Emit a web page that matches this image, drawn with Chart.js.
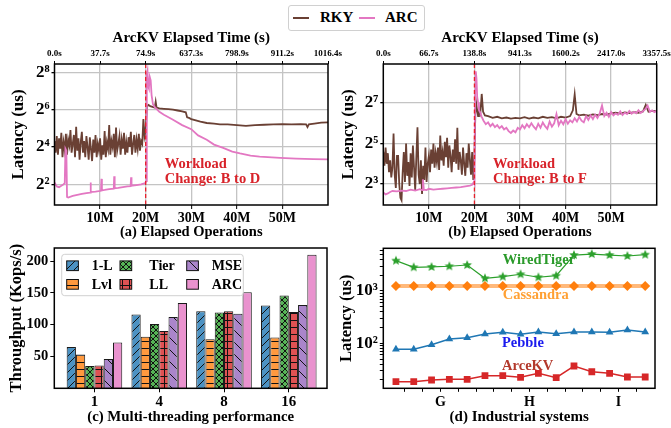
<!DOCTYPE html>
<html><head><meta charset="utf-8">
<script src="https://cdn.jsdelivr.net/npm/chart.js@4"></script>
<style>
body{margin:0;background:#fff;width:671px;height:428px;overflow:hidden;position:relative;font-family:"Liberation Serif","Times New Roman",serif;}
canvas{position:absolute;}
#legend{position:absolute;left:288px;top:5px;width:135px;height:24px;border:1px solid #d0d0d0;border-radius:3px;background:#fff;}
#legend .ln{position:absolute;height:2px;width:16px;top:11px;}
#legend .lt{position:absolute;top:3px;font-weight:bold;font-size:15px;line-height:17px;color:#000;}
</style></head><body>
<canvas id="ca" width="360" height="245" style="left:0;top:0"></canvas>
<canvas id="cb" width="341" height="245" style="left:330px;top:0"></canvas>
<canvas id="cc" width="335" height="188" style="left:0;top:240px"></canvas>
<canvas id="cd" width="341" height="188" style="left:330px;top:240px"></canvas>
<div id="legend"></div>
<script>
// ---------------- DATA ----------------
const seriesNames = ['RKY', 'ARC'];
const xTickVals = [10, 20, 30, 40, 50];
const topTickVals = [0, 10, 20, 30, 40, 50, 60];
const topLabelsA = ['0.0s', '37.7s', '74.9s', '637.3s', '798.9s', '911.2s', '1016.4s'];
const topLabelsB = ['0.0s', '66.7s', '138.8s', '941.3s', '1600.2s', '2417.0s', '3357.5s'];
const yTickValsA = [4, 16, 64, 256];
const yTickLabelsA = ['2²', '2⁴', '2⁶', '2⁸'];
const yTickValsB = [8, 32, 128];
const yTickLabelsB = ['2³', '2⁵', '2⁷'];

// (a) RKY, 0 - 19.75M every 0.25M (latency, us)
const rkyAEarly = [
  20, 13, 24, 12, 22, 15, 27, 11,
  19, 14, 26, 12, 21, 17, 30, 13,
  18, 25, 11, 34, 14, 22, 10, 19,
  28, 13, 20, 11, 24, 16, 10, 23,
  15, 9.5, 21, 13, 25, 11, 18, 14,
  22, 10, 17, 12, 29, 11, 19, 15,
  36, 12, 20, 16, 26, 11, 33, 14,
  18, 24, 12, 21, 15, 27, 12, 19,
  13, 23, 16, 28, 12, 18, 25, 13,
  21, 15, 26, 14, 20, 18, 45, 24];
const rkyALateX = [20.0, 20.3, 20.6, 21, 21.5, 22, 22.2, 22.4, 23, 24, 25, 26, 27, 28, 28.8, 29.1, 29.5, 30, 31, 32, 33.4, 35, 36.3, 38, 40, 42, 44, 46, 48, 50, 52, 54, 55.2, 55.5, 55.8, 57, 58.5, 60];
const rkyALateY = [30, 72, 76, 73, 71, 69, 86, 69, 67, 66, 65, 64, 62, 60, 58, 48, 47, 45, 43, 41, 39, 38, 37, 37, 36, 35, 36, 36.5, 37, 37.5, 37, 37.5, 37, 33.5, 37, 38, 39.5, 40];
// (a) ARC
const arcAX = [0, 0.5, 1.0, 1.5, 2.0, 2.25, 2.4, 2.6, 2.75, 3.0, 4, 5, 6, 7, 7.8, 7.9, 8.0, 9, 10.2, 10.3, 10.4, 11, 12, 13.0, 13.1, 13.2, 14, 15, 16, 16.7, 16.8, 16.9, 18, 19, 19.9, 20.1, 20.25, 20.4, 20.55, 20.7, 20.9, 21.1, 21.3, 21.6, 22, 23, 24, 26, 28, 30, 31.5, 33.4, 35, 37, 39, 40.7, 43, 45, 49.5, 53, 56.8, 60];
const arcAY = [4.3, 3.7, 3.6, 3.8, 4.0, 4.2, 15, 14, 2.5, 2.45, 2.6, 2.7, 2.8, 2.9, 2.95, 4.3, 3.0, 3.05, 3.15, 4.9, 3.2, 3.25, 3.35, 3.4, 5.4, 3.45, 3.5, 3.6, 3.7, 3.75, 5.2, 3.8, 3.9, 4.0, 4.2, 4.5, 230, 265, 150, 140, 215, 190, 110, 78, 70, 59, 53, 44, 36, 31, 24.6, 21, 17.5, 15.5, 13.5, 12.6, 11.6, 11.2, 10.7, 10.4, 10.2, 10.1];

// (b) RKY, 0 - 19.75M every 0.25M
const rkyBEarly = [
  24, 15, 28, 16, 23, 12, 18, 10,
  14, 45, 11, 7, 21, 21, 8, 5,
  4.6, 12, 24, 8.6, 32, 10.6, 17, 7.5,
  23, 10, 30, 14, 6.5, 20, 56, 11,
  8, 18, 5.7, 15, 9.2, 28, 8.6, 16,
  21, 12, 26, 16, 32, 14, 23, 17,
  28, 13, 42, 18, 24, 15, 34, 20,
  39, 14, 30, 21, 12, 26, 17, 37,
  16, 55, 13, 24, 18, 11, 28, 16,
  10.6, 23, 14, 32, 18, 11, 24, 9.2];
const rkyBLateX = [20.0, 20.2, 20.4, 20.6, 20.8, 21.0, 21.3, 21.6, 21.9, 22.3, 23, 24, 25, 26, 27, 28, 29, 30, 31, 32, 33, 34, 35, 36, 37, 38, 39, 40, 41, 41.6, 42, 42.4, 43, 44, 45, 46, 47, 48, 49, 50, 51, 52, 53, 54, 55, 56, 57, 57.6, 58.2, 59, 60];
const rkyBLateY = [20, 90, 125, 100, 82, 108, 92, 175, 95, 84, 82, 77, 80, 76, 78, 75, 77, 76, 79, 75, 78, 76, 80, 77, 79, 76, 80, 78, 82, 100, 172, 88, 84, 86, 83, 87, 85, 88, 86, 90, 92, 89, 93, 91, 94, 92, 96, 120, 95, 98, 97];
// (b) ARC
const arcBX1 = [0, 0.5, 1, 1.5, 2, 3, 4, 5, 6, 7, 8, 8.5, 8.7, 8.9, 9.5, 10, 11, 12, 13, 14, 15, 16, 17, 18, 19, 19.5, 19.8, 20.0, 20.15, 20.3, 20.45, 20.6, 20.8, 21.0, 21.3, 21.6];
const arcBY1 = [6.0, 5.6, 5.8, 6.1, 6.3, 6.2, 6.4, 6.3, 6.6, 6.4, 6.7, 6.5, 9.4, 6.6, 6.5, 6.8, 6.6, 6.7, 6.8, 6.9, 7.0, 7.1, 7.2, 7.4, 7.6, 7.8, 8.4, 7.9, 200, 380, 300, 160, 130, 100, 92, 80];
// (b) ARC, 22M - 60M every 0.5M
const arcBLate = [
  70, 62, 66, 58, 63, 56, 60, 54, 58, 52,
  55, 49, 46, 50, 47, 55, 52, 60, 54, 62,
  56, 64, 57, 52, 63, 55, 66, 58, 53, 68,
  57, 64, 88, 60, 70, 62, 74, 63, 71, 66,
  76, 68, 80, 70, 66, 82, 72, 84, 74, 86,
  77, 90, 118, 82, 92, 80, 94, 84, 90, 86,
  96, 85, 92, 88, 98, 89, 95, 90, 100, 91,
  97, 104, 118, 95, 100, 94, 98];

// (c) throughput (Kops/s)
const threadLabels = ['1', '4', '8', '16'];
const systems = ['1-L', 'Lvl', 'Tier', 'LL', 'MSE', 'ARC'];
const tp1L = [65, 116, 121, 130];
const tpLvl = [53, 81, 77, 80];
const tpTier = [35, 101, 119, 146];
const tpLL = [36, 90, 121, 120];
const tpMSE = [46, 112, 117, 131];
const tpARC = [72, 134, 151, 210];
const cYTicks = [50, 100, 150, 200];

// (d) industrial systems latency (us)
const indNames = ['WiredTiger', 'Cassandra', 'Pebble', 'ArceKV'];
const wiredTiger = [3800, 2840, 2880, 2970, 3140, 1750, 1880, 2090, 1830, 1960, 4870, 5090, 4870, 4670, 4950];
const cassandra = [1250, 1250, 1250, 1250, 1250, 1250, 1250, 1250, 1250, 1250, 1250, 1250, 1250, 1250, 1250];
const pebble = [77, 77, 94, 121, 128, 151, 162, 149, 164, 153, 164, 164, 162, 179, 164];
const arceKV = [18.5, 18.5, 19.9, 20.5, 20.5, 24, 24, 22.4, 26.7, 22, 36.8, 28.6, 26.7, 22.7, 22.7];
const dGroupLabels = ['G', 'H', 'I'];
const dGroupTicks = [2.5, 7.5, 12.5];
const dMinorX = [0.5, 1.5, 2.5, 3.5, 4.5, 5.5, 6.5, 7.5, 8.5, 9.5, 10.5, 11.5, 12.5, 13.5];
const dYTicks = [20, 30, 40, 50, 60, 70, 80, 90, 100, 200, 300, 400, 500, 600, 700, 800, 900, 1000, 2000, 3000, 4000, 5000, 6000];
const dYMajor = {100: '10²', 1000: '10³'};

// ---------------- HELPERS ----------------
const FAM = '"Liberation Serif", "Times New Roman", serif';
const F = s => ({family: FAM, size: s, weight: 'bold'});
const BROWN = '#6a4034', PINK = '#e377c2';
const zip = (xs, ys) => xs.map((x, i) => ({x: x, y: ys[i]}));
const seq = (vals, start, step) => vals.map((v, i) => ({x: start + i * step, y: v}));

const frame = {id: 'frame', afterDraw(chart) {
  const {ctx, chartArea: a} = chart;
  ctx.save(); ctx.strokeStyle = '#000'; ctx.lineWidth = 1.5;
  ctx.strokeRect(a.left, a.top, a.right - a.left, a.bottom - a.top); ctx.restore();
}};

const ann = {id: 'ann', afterDatasetsDraw(chart, args, o) {
  const {ctx} = chart; const xs = chart.scales.x, ys = chart.scales.y;
  ctx.save();
  if (o.vline !== undefined) {
    const px = xs.getPixelForValue(o.vline);
    ctx.strokeStyle = '#e8202c'; ctx.lineWidth = 1.3; ctx.setLineDash([4, 2.5]);
    ctx.beginPath(); ctx.moveTo(px, chart.chartArea.top); ctx.lineTo(px, chart.chartArea.bottom); ctx.stroke();
    ctx.setLineDash([]);
  }
  (o.texts || []).forEach(t => {
    ctx.font = 'bold ' + t.size + 'px ' + FAM; ctx.fillStyle = t.color;
    ctx.textAlign = t.align || 'left'; ctx.textBaseline = 'middle';
    ctx.fillText(t.text, xs.getPixelForValue(t.x), ys.getPixelForValue(t.y));
  });
  ctx.restore();
}};

function timeChart(id, o) {
  return new Chart(document.getElementById(id), {
    type: 'line',
    data: {datasets: [
      {label: seriesNames[1], data: o.arc, borderColor: PINK, borderWidth: 1.8, pointRadius: 0, order: 0},
      {label: seriesNames[0], data: o.rky, borderColor: BROWN, borderWidth: 1.8, pointRadius: 0, order: 1}
    ]},
    options: {
      responsive: false, animation: false, events: [],
      layout: {autoPadding: false, padding: {top: 20, right: o.padRight, left: 0, bottom: 0}},
      plugins: {legend: {display: false}, tooltip: {enabled: false},
        ann: {vline: 20, texts: o.texts}},
      scales: {
        x: {type: 'linear', position: 'bottom', min: 0, max: 60,
          afterBuildTicks: ax => { ax.ticks = xTickVals.map(v => ({value: v})); },
          ticks: {callback: v => v + 'M', font: F(14), color: '#000', padding: 1, maxRotation: 0, autoSkip: false},
          grid: {color: '#c4c4c4', lineWidth: 1.3, tickLength: 4, tickColor: '#000', tickWidth: 1},
          border: {display: false},
          title: {display: true, text: o.caption, font: F(14.5), color: '#000', padding: {top: 0, bottom: 4}},
          afterFit: ax => { ax.height = 40; ax.paddingLeft = 0; ax.paddingRight = 0; }},
        xTop: {type: 'linear', position: 'top', min: 0, max: 60,
          afterBuildTicks: ax => { ax.ticks = topTickVals.map(v => ({value: v})); },
          ticks: {callback: (v, i) => o.topLabels[i], font: F(9), color: '#000', padding: 2, maxRotation: 0, autoSkip: false},
          grid: {drawOnChartArea: false, tickLength: 3, tickColor: '#000'},
          border: {display: false},
          title: {display: true, text: 'ArcKV Elapsed Time (s)', font: F(15), color: '#000', padding: {top: 9, bottom: 0}},
          afterFit: ax => { ax.height = 44; ax.paddingLeft = 0; ax.paddingRight = 0; }},
        y: {type: 'logarithmic', min: o.ymin, max: o.ymax,
          afterBuildTicks: ax => { ax.ticks = o.yVals.map(v => ({value: v})); },
          ticks: {callback: (v, i) => o.yLabels[i], font: F(17), color: '#000', padding: 2, autoSkip: false},
          grid: {color: '#c4c4c4', lineWidth: 1.3, tickLength: 3, tickColor: '#000'},
          border: {display: false},
          title: {display: true, text: 'Latency (us)', font: F(17), color: '#000', padding: {top: 8, bottom: 0}},
          afterFit: ax => { ax.width = o.yWidth; ax.paddingTop = 0; ax.paddingBottom = 0; }}
      }
    },
    plugins: [ann, frame]
  });
}

const RED_TXT = '#d8232a';
timeChart('ca', {
  rky: seq(rkyAEarly, 0, 0.25).concat(zip(rkyALateX, rkyALateY)),
  arc: zip(arcAX, arcAY),
  topLabels: topLabelsA, yVals: yTickValsA, yLabels: yTickLabelsA,
  ymin: 1.86, ymax: 348, yWidth: 54.5, padRight: 32,
  caption: '(a) Elapsed Operations',
  texts: [{text: 'Workload', x: 24.2, y: 8.46, size: 14.5, color: RED_TXT},
          {text: 'Change: B to D', x: 24.2, y: 4.86, size: 14.5, color: RED_TXT}]
});
timeChart('cb', {
  rky: seq(rkyBEarly, 0, 0.25).concat(zip(rkyBLateX, rkyBLateY)),
  arc: zip(arcBX1, arcBY1).concat(seq(arcBLate, 22, 0.5)),
  topLabels: topLabelsB, yVals: yTickValsB, yLabels: yTickLabelsB,
  ymin: 3.9, ymax: 488, yWidth: 53.3, padRight: 14.3,
  caption: '(b) Elapsed Operations',
  texts: [{text: 'Workload', x: 24.1, y: 15.5, size: 14.5, color: RED_TXT},
          {text: 'Change: B to F', x: 24.1, y: 9.3, size: 14.5, color: RED_TXT}]
});

// legend at top
(function () {
  const lg = document.getElementById('legend');
  const cols = [BROWN, PINK];
  const lineX = [4, 70], textX = [31, 96];
  seriesNames.forEach((n, i) => {
    const l = document.createElement('span'); l.className = 'ln'; l.style.left = lineX[i] + 'px'; l.style.background = cols[i]; lg.appendChild(l);
    const t = document.createElement('span'); t.className = 'lt'; t.style.left = textX[i] + 'px'; t.textContent = n; lg.appendChild(t);
  });
})();

// ---------- (c) hatched bars ----------
function hatch(bg, kind) {
  const s = {'/': 8, '-': 7, 'x': 6, '+': 7, '\\': 12, '': 4}[kind];
  const c = document.createElement('canvas'); c.width = s; c.height = s;
  const g = c.getContext('2d');
  g.fillStyle = bg; g.fillRect(0, 0, s, s);
  g.strokeStyle = '#111'; g.lineWidth = 1;
  const L = (a, b, cc, d) => { g.beginPath(); g.moveTo(a, b); g.lineTo(cc, d); g.stroke(); };
  if (kind === '/' || kind === 'x') { L(0, s, s, 0); L(-s, s, s, -s); L(0, 2 * s, 2 * s, 0); }
  if (kind === '\\' || kind === 'x') { L(0, 0, s, s); L(-s, 0, s, 2 * s); L(0, -s, 2 * s, s); }
  if (kind === '-' || kind === '+') L(0, s / 2, s, s / 2);
  if (kind === '+') L(s / 2, 0, s / 2, s);
  return g.createPattern(c, 'repeat');
}
const barColors = ['#4c92c3', '#ff993e', '#56b356', '#de5253', '#aa85ca', '#e992ce'];
const hatchKinds = ['/', '-', 'x', '+', '\\', ''];
const tpSeries = [tp1L, tpLvl, tpTier, tpLL, tpMSE, tpARC];
const patterns = barColors.map((c, i) => hatch(c, hatchKinds[i]));

const barLegend = {id: 'barLegend', afterDatasetsDraw(chart) {
  const {ctx, chartArea: a} = chart;
  ctx.save();
  const bx = a.left + 7.4, by = a.top + 6.3, bw = 181.6, bh = 41.4;
  ctx.beginPath(); ctx.roundRect(bx, by, bw, bh, 3);
  ctx.fillStyle = 'rgba(255,255,255,0.8)'; ctx.fill();
  ctx.strokeStyle = '#d0d0d0'; ctx.lineWidth = 1; ctx.stroke();
  const order = [0, 2, 4, 1, 3, 5];
  const sx = [12.4, 65.7, 132.4], tx = [37.4, 95, 157.4], ry = [17.7, 36.3];
  order.forEach((di, k) => {
    const col = k % 3, row = Math.floor(k / 3);
    const x = a.left + sx[col], y = a.top + ry[row];
    ctx.fillStyle = patterns[di]; ctx.fillRect(x, y - 4.8, 11.7, 9.7);
    ctx.strokeStyle = '#111'; ctx.lineWidth = 1; ctx.strokeRect(x, y - 4.8, 11.7, 9.7);
    ctx.fillStyle = '#000'; ctx.font = 'bold 14px ' + FAM; ctx.textAlign = 'left'; ctx.textBaseline = 'middle';
    ctx.fillText(systems[di], a.left + tx[col], y + 1);
  });
  ctx.restore();
}};

new Chart(document.getElementById('cc'), {
  type: 'bar',
  data: {datasets: systems.map((n, i) => ({
    label: n, data: tpSeries[i].map((v, j) => ({x: j, y: v})),
    backgroundColor: patterns[i], borderColor: '#1a1a1a', borderWidth: 1,
    categoryPercentage: 0.858, barPercentage: 1.0
  }))},
  options: {
    responsive: false, animation: false, events: [],
    layout: {autoPadding: false, padding: {top: 8, right: 8, left: 0, bottom: 0}},
    plugins: {legend: {display: false}, tooltip: {enabled: false}},
    scales: {
      x: {type: 'linear', offset: false, min: -0.62, max: 3.59,
        afterBuildTicks: ax => { ax.ticks = threadLabels.map((l, i) => ({value: i})); },
        ticks: {callback: v => threadLabels[v], font: F(15), color: '#000', padding: 1, maxRotation: 0, autoSkip: false},
        grid: {offset: false, drawOnChartArea: false, tickLength: 4, tickColor: '#000'},
        border: {display: false},
        title: {display: true, text: '(c) Multi-threading performance', font: F(14.8), color: '#000', padding: {top: 0, bottom: 2}},
        afterFit: ax => { ax.height = 39.7; ax.paddingLeft = 0; ax.paddingRight = 0; }},
      y: {type: 'linear', min: 0, max: 220.5,
        afterBuildTicks: ax => { ax.ticks = cYTicks.map(v => ({value: v})); },
        ticks: {font: F(14.5), color: '#000', padding: 2, autoSkip: false},
        grid: {drawOnChartArea: false, tickLength: 4, tickColor: '#000'},
        border: {display: false},
        title: {display: true, text: 'Throughput (Kops/s)', font: F(16.5), color: '#000', padding: {top: 7, bottom: 0}},
        afterFit: ax => { ax.width = 54.3; ax.paddingTop = 0; ax.paddingBottom = 0; }}
    }
  },
  plugins: [barLegend, frame]
});

// ---------- (d) industrial systems ----------
function starImg(color, r) {
  const s = Math.ceil(r * 2 + 2); const c = document.createElement('canvas'); c.width = s; c.height = s;
  const g = c.getContext('2d'); g.fillStyle = color; g.beginPath();
  for (let k = 0; k < 10; k++) { const rad = k % 2 ? r * 0.45 : r; const an = -Math.PI / 2 + k * Math.PI / 5; g.lineTo(s / 2 + rad * Math.cos(an), s / 2 + rad * Math.sin(an)); }
  g.closePath(); g.fill(); return c;
}
const idx = arr => arr.map((v, i) => ({x: i, y: v}));
new Chart(document.getElementById('cd'), {
  type: 'line',
  data: {datasets: [
    {label: indNames[0], data: idx(wiredTiger), borderColor: '#2ca02c', borderWidth: 1.2, pointStyle: starImg('#2ca02c', 5), pointRadius: 5, order: 0},
    {label: indNames[1], data: idx(cassandra), borderColor: 'rgba(255,127,14,0.55)', borderWidth: 4, pointStyle: 'rectRot', pointRadius: 5, pointBackgroundColor: '#ff7f0e', pointBorderColor: '#ff7f0e', pointBorderWidth: 0, order: 1},
    {label: indNames[2], data: idx(pebble), borderColor: '#1f77b4', borderWidth: 1.5, pointStyle: 'triangle', pointRadius: 4.5, pointBackgroundColor: '#1f77b4', pointBorderColor: '#1f77b4', pointBorderWidth: 0, order: 2},
    {label: indNames[3], data: idx(arceKV), borderColor: '#d62728', borderWidth: 1.5, pointStyle: 'rect', pointRadius: 4.8, pointBackgroundColor: '#d62728', pointBorderColor: '#d62728', pointBorderWidth: 0, order: 3}
  ]},
  options: {
    responsive: false, animation: false, events: [],
    layout: {autoPadding: false, padding: {top: 8.3, right: 16, left: 0, bottom: 0}},
    plugins: {legend: {display: false}, tooltip: {enabled: false},
      ann: {texts: [
        {text: indNames[0], x: 8.03, y: 3800, size: 14.5, color: '#2a9a2a', align: 'center'},
        {text: indNames[1], x: 7.85, y: 838, size: 14.5, color: '#ffa033', align: 'center'},
        {text: indNames[2], x: 7.13, y: 100, size: 14.5, color: '#1a1aee', align: 'center'},
        {text: indNames[3], x: 7.4, y: 36.8, size: 14.5, color: '#b3392c', align: 'center'}]}},
    scales: {
      x: {type: 'linear', min: -0.71, max: 14.55,
        afterBuildTicks: ax => { ax.ticks = dMinorX.map(v => ({value: v})); },
        ticks: {callback: v => { const k = dGroupTicks.indexOf(v); return k >= 0 ? dGroupLabels[k] : ''; }, font: F(14), color: '#000', padding: 2, maxRotation: 0, autoSkip: false},
        grid: {drawOnChartArea: false, tickLength: 3.5, tickColor: '#000'},
        border: {display: false},
        title: {display: true, text: '(d) Industrial systems', font: F(15), color: '#000', padding: {top: 0, bottom: 2}},
        afterFit: ax => { ax.height = 39.7; ax.paddingLeft = 0; ax.paddingRight = 0; }},
      y: {type: 'logarithmic', min: 13.8, max: 6550,
        afterBuildTicks: ax => { ax.ticks = dYTicks.map(v => ({value: v})); },
        ticks: {callback: v => dYMajor[v] || '', font: F(17), color: '#000', padding: 2, autoSkip: false},
        grid: {drawOnChartArea: false, tickLength: 3.5, tickColor: '#000'},
        border: {display: false},
        title: {display: true, text: 'Latency (us)', font: F(16.5), color: '#000', padding: {top: 7, bottom: 0}},
        afterFit: ax => { ax.width = 53.3; ax.paddingTop = 0; ax.paddingBottom = 0; }}
    }
  },
  plugins: [ann, frame]
});
</script>
</body></html>
